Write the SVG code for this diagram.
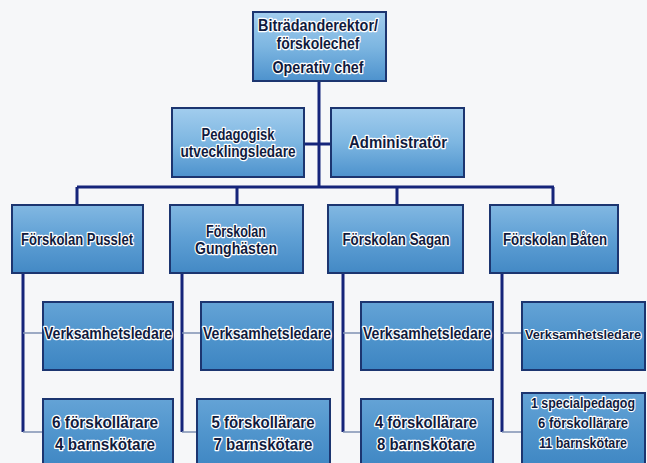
<svg xmlns="http://www.w3.org/2000/svg" width="647" height="463" viewBox="0 0 647 463">
<defs>
<linearGradient id="gA" x1="0" y1="0" x2="0" y2="1">
<stop offset="0" stop-color="#a2cdee"/>
<stop offset="0.5" stop-color="#7db6e1"/>
<stop offset="1" stop-color="#4d92cd"/>
</linearGradient>
<linearGradient id="gB" x1="0" y1="0" x2="0" y2="1">
<stop offset="0" stop-color="#82b8e2"/>
<stop offset="0.5" stop-color="#5e9fd4"/>
<stop offset="1" stop-color="#4389c5"/>
</linearGradient>
<linearGradient id="gC" x1="0" y1="0" x2="0" y2="1">
<stop offset="0" stop-color="#64a3d6"/>
<stop offset="0.5" stop-color="#4f94cc"/>
<stop offset="1" stop-color="#3d85c2"/>
</linearGradient>
</defs>
<style>
.bg{fill:#f6f7f9}
.box{stroke:#1c3570;stroke-width:2}
.a{fill:url(#gA)}
.b{fill:url(#gB)}
.c{fill:url(#gC)}
text{font-family:"Liberation Sans",Arial,sans-serif;font-weight:bold;font-size:16px;fill:#101b3e;stroke:#ffffff;stroke-width:2.6px;stroke-linejoin:round;paint-order:stroke;text-anchor:middle}
text.sm{font-size:14px;stroke-width:2.3px}
text.xs{font-size:13px;stroke-width:2.2px}
.ln{stroke:#15247a;stroke-width:3;fill:none}
.thin{stroke:#7f91b3;stroke-width:1.6;fill:none}
</style>
<rect class="bg" x="0" y="0" width="647" height="463"/>

<g id="connectors">
<path class="ln" d="M319 81 V187"/>
<path class="ln" d="M304 144 H331"/>
<path class="ln" d="M77 187 H554"/>
<path class="ln" d="M77 187 V205 M237 187 V205 M397 187 V205 M553 187 V205"/>
<path class="ln" d="M23 273 V432 M182 273 V432 M343 273 V432 M502 273 V432"/>
<path class="thin" d="M23 432 H43 M182 432 H197 M343 432 H361 M502 432 H522"/>
<path class="thin" d="M23 333 H43 M182 333 H201 M343 333 H361 M502 333 H522"/>
</g>

<g id="n-top">
<rect class="box a" x="253" y="12" width="133" height="69"/>
<text x="318" y="31" textLength="120" lengthAdjust="spacingAndGlyphs">Biträdanderektor/</text>
<text x="318" y="49" textLength="83" lengthAdjust="spacingAndGlyphs">förskolechef</text>
<text x="318" y="73" textLength="91" lengthAdjust="spacingAndGlyphs">Operativ chef</text>
</g>

<g id="n-ped">
<rect class="box a" x="172" y="108" width="132" height="69"/>
<text x="238" y="140" textLength="73" lengthAdjust="spacingAndGlyphs">Pedagogisk</text>
<text x="238" y="157" textLength="115" lengthAdjust="spacingAndGlyphs">utvecklingsledare</text>
</g>

<g id="n-adm">
<rect class="box a" x="331" y="108" width="133" height="69"/>
<text x="398" y="148" textLength="98" lengthAdjust="spacingAndGlyphs">Administratör</text>
</g>

<g id="n-pusslet">
<rect class="box b" x="12" y="205" width="131" height="68"/>
<text x="77" y="245" textLength="112" lengthAdjust="spacingAndGlyphs">Förskolan Pusslet</text>
</g>
<g id="n-gunghasten">
<rect class="box b" x="170" y="205" width="133" height="68"/>
<text x="236" y="237" textLength="60" lengthAdjust="spacingAndGlyphs">Förskolan</text>
<text x="236" y="254" textLength="82" lengthAdjust="spacingAndGlyphs">Gunghästen</text>
</g>
<g id="n-sagan">
<rect class="box b" x="328" y="205" width="135" height="68"/>
<text x="396" y="245" textLength="107" lengthAdjust="spacingAndGlyphs">Förskolan Sagan</text>
</g>
<g id="n-baten">
<rect class="box b" x="490" y="205" width="128" height="68"/>
<text x="555" y="245" textLength="104" lengthAdjust="spacingAndGlyphs">Förskolan Båten</text>
</g>

<g id="n-vl1">
<rect class="box c" x="43" y="302" width="130" height="68"/>
<text x="108" y="339" textLength="128" lengthAdjust="spacingAndGlyphs">Verksamhetsledare</text>
</g>
<g id="n-vl2">
<rect class="box c" x="201" y="302" width="132" height="68"/>
<text x="267" y="339" textLength="128" lengthAdjust="spacingAndGlyphs">Verksamhetsledare</text>
</g>
<g id="n-vl3">
<rect class="box c" x="361" y="302" width="132" height="68"/>
<text x="427" y="339" textLength="128" lengthAdjust="spacingAndGlyphs">Verksamhetsledare</text>
</g>
<g id="n-vl4">
<rect class="box c" x="522" y="302" width="123" height="68"/>
<text class="xs" x="583" y="339" textLength="116" lengthAdjust="spacingAndGlyphs">Verksamhetsledare</text>
</g>

<g id="n-st1">
<rect class="box c" x="43" y="399" width="130" height="72"/>
<text x="105" y="428" textLength="106" lengthAdjust="spacingAndGlyphs">6 förskollärare</text>
<text x="105" y="450" textLength="100" lengthAdjust="spacingAndGlyphs">4 barnskötare</text>
</g>
<g id="n-st2">
<rect class="box c" x="197" y="399" width="133" height="72"/>
<text x="263" y="428" textLength="103" lengthAdjust="spacingAndGlyphs">5 förskollärare</text>
<text x="263" y="450" textLength="99" lengthAdjust="spacingAndGlyphs">7 barnskötare</text>
</g>
<g id="n-st3">
<rect class="box c" x="361" y="399" width="132" height="72"/>
<text x="426" y="428" textLength="102" lengthAdjust="spacingAndGlyphs">4 förskollärare</text>
<text x="426" y="450" textLength="98" lengthAdjust="spacingAndGlyphs">8 barnskötare</text>
</g>
<g id="n-st4">
<rect class="box c" x="522" y="393" width="123" height="78"/>
<text class="sm" x="583" y="408" textLength="104" lengthAdjust="spacingAndGlyphs">1 specialpedagog</text>
<text class="sm" x="583" y="428" textLength="90" lengthAdjust="spacingAndGlyphs">6 förskollärare</text>
<text class="sm" x="583" y="448" textLength="88" lengthAdjust="spacingAndGlyphs">11 barnskötare</text>
</g>
</svg>
